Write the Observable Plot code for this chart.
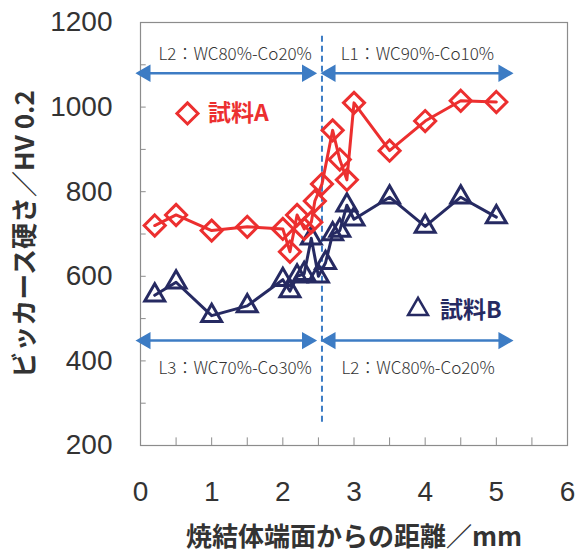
<!DOCTYPE html>
<html><head><meta charset="utf-8">
<script src="https://cdn.jsdelivr.net/npm/d3@7"></script>
<script src="https://cdn.jsdelivr.net/npm/@observablehq/plot@0.6"></script>
<style>body{margin:0;background:#fff}</style>
</head><body><div id="chart"></div>
<script>
// 試料A (diamonds)
const distA = [0.2,0.5,1.0,1.5,2.0,2.1,2.2,2.3,2.4,2.45,2.55,2.7,2.8,2.9,3.0,3.5,4.0,4.5,5.0];
const hvA   = [720,745,708,717,712,658,745,712,728,778,818,945,876,828,1010,897,967,1015,1012];
// 試料B (triangles)
const distB = [0.2,0.5,1.0,1.5,2.0,2.1,2.2,2.3,2.4,2.5,2.6,2.7,2.8,2.9,3.0,3.5,4.0,4.5,5.0];
const hvB   = [555,586,507,530,592,565,600,606,690,600,632,700,708,768,735,787,718,787,740];

const xTicks = [0,1,2,3,4,5,6];
const yTicks = [200,400,600,800,1000,1200];
const xMinorTicks = [0.5,1,1.5,2,2.5,3,3.5,4,4.5,5,5.5];
const yMinorTicks = [300,400,500,600,700,800,900,1000,1100];

const boundaryX = [2.55];
const boundaryY = [255,1177];

const layerLabels = ["L2：WC80%-Co20%","L1：WC90%-Co10%","L3：WC70%-Co30%","L2：WC80%-Co20%"];
const layerLabelX = [1.33,3.89,1.33,3.9];
const layerLabelY = [1124,1124,383,383];

const arrowX1 = [0.07,2.67,0.07,2.67];
const arrowX2 = [2.34,5.1,2.34,5.1];
const arrowY  = [1080,1080,448,448];

const seriesNames = ["試料A","試料B"];
const xTitle = "焼結体端面からの距離／mm";
const yTitle = "ビッカース硬さ／HV 0.2";

const red = "#ec2f2f", navy = "#262a62", blue = "#3d7cc4";
const cjk = "'Noto Sans CJK JP', 'Liberation Sans', sans-serif";

const A = distA.map((x,i)=>({x, y:hvA[i]}));
const B = distB.map((x,i)=>({x, y:hvB[i]}));
const arrows = arrowX1.map((x1,i)=>({x1, x2:arrowX2[i], y:arrowY[i]}));
const labels = layerLabels.map((t,i)=>({t, x:layerLabelX[i], y:layerLabelY[i]}));

const plot = Plot.plot({
  width:578, height:552,
  marginLeft:140, marginRight:11, marginTop:22, marginBottom:107,
  style:{fontFamily:"'Liberation Sans', Arial, sans-serif", background:"#fff", color:"#333", overflow:"visible"},
  x:{domain:[0,6]},
  y:{domain:[200,1200]},
  marks:[
    Plot.frame({stroke:"#8c8c8c", strokeWidth:1.2}),
    Plot.ruleX(xMinorTicks, {x:d=>d, y1:200, y2:218, stroke:"#8c8c8c"}),
    Plot.ruleY(yMinorTicks, {y:d=>d, x1:0, x2:0.08, stroke:"#8c8c8c"}),
    Plot.axisX({ticks:xTicks, tickFormat:d=>String(d), tickSize:0, tickPadding:36, fontSize:28, fill:"#333", label:null}),
    Plot.axisY({ticks:yTicks, tickFormat:d=>String(d), tickSize:0, tickPadding:28, fontSize:28, fill:"#333", label:null}),
    // boundary dashed line
    Plot.ruleX(boundaryX, {x:d=>d, y1:boundaryY[0], y2:boundaryY[1], stroke:blue, strokeWidth:2, strokeDasharray:"6,4"}),
    // arrows
    Plot.link(arrows, {x1:"x1", x2:"x2", y1:"y", y2:"y", stroke:blue, strokeWidth:2.5}),
    Plot.dot(arrows, {x:"x1", y:"y", symbol:"triangle", r:5.5, fill:blue, stroke:blue, rotate:-90}),
    Plot.dot(arrows, {x:"x2", y:"y", symbol:"triangle", r:5.5, fill:blue, stroke:blue, rotate:90}),
    Plot.text(labels, {x:"x", y:"y", text:"t", fontSize:17, fill:"#333", fontFamily:cjk, fontWeight:300}),
    // series
    Plot.line(B, {x:"x", y:"y", stroke:navy, strokeWidth:3}),
    Plot.dot(B, {x:"x", y:"y", symbol:"triangle", r:7.4, stroke:navy, strokeWidth:3, fill:"none"}),
    Plot.line(A, {x:"x", y:"y", stroke:red, strokeWidth:3}),
    Plot.dot(A, {x:"x", y:"y", symbol:"diamond2", r:9.5, stroke:red, strokeWidth:3, fill:"none"}),
    // legends
    Plot.dot([0], {x:[0.66], y:[985], symbol:"diamond2", r:9.5, stroke:red, strokeWidth:3, fill:"none"}),
    Plot.text([seriesNames[0]], {x:[0.95], y:[985], textAnchor:"start", fontSize:23, fontWeight:"bold", fill:red, fontFamily:cjk}),
    Plot.dot([0], {x:[3.9], y:[522], symbol:"triangle", r:7.4, stroke:navy, strokeWidth:2.5, fill:"none"}),
    Plot.text([seriesNames[1]], {x:[4.21], y:[519], textAnchor:"start", fontSize:23, fontWeight:"bold", fill:navy, fontFamily:cjk}),
    // axis titles
    Plot.text([xTitle], {frameAnchor:"bottom", dy:92, lineAnchor:"middle", textAnchor:"middle", fontSize:26, fontWeight:"bold", fill:"#333", fontFamily:cjk}),
    Plot.text([yTitle], {frameAnchor:"left", dx:-115, rotate:-90, textAnchor:"middle", lineAnchor:"middle", fontSize:26, fontWeight:"bold", fill:"#333", fontFamily:cjk})
  ]
});
document.getElementById("chart").append(plot);
</script>
</body></html>
